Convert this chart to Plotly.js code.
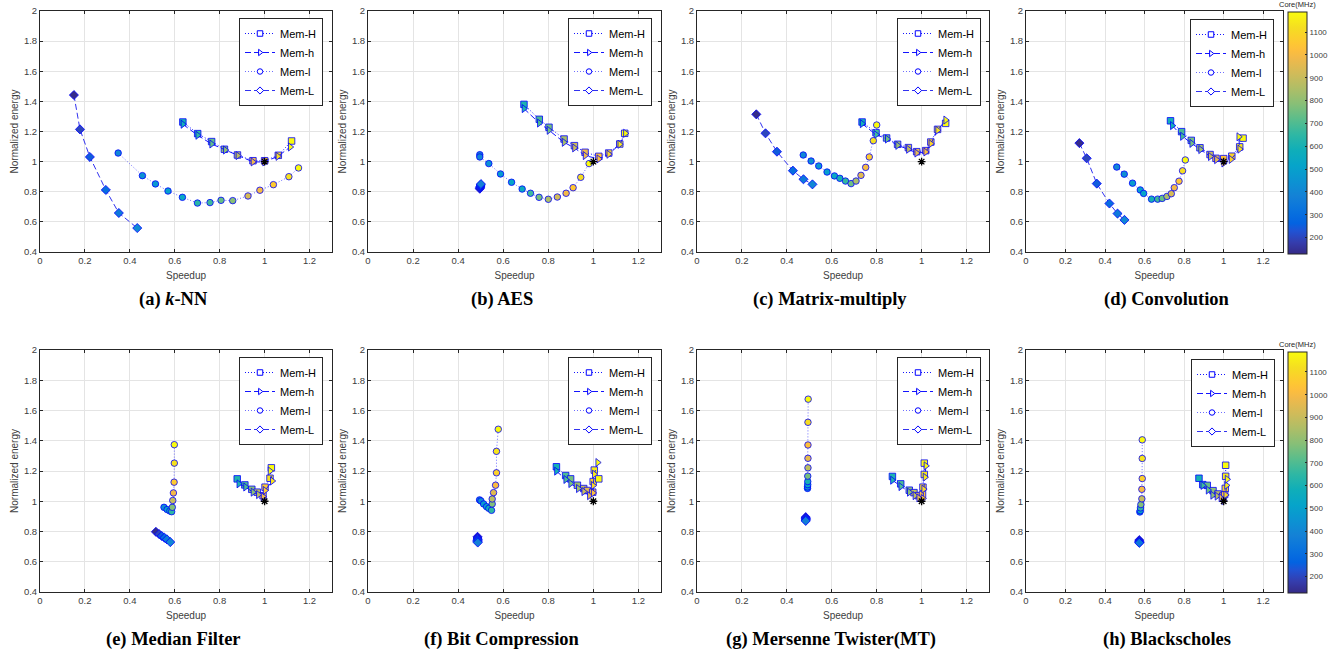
<!DOCTYPE html>
<html>
<head>
<meta charset="utf-8">
<script src="https://cdn.plot.ly/plotly-3.0.1.min.js"></script>
<style>html,body{margin:0;padding:0;background:#fff;}#chart{width:1338px;height:654px;}</style>
</head>
<body>
<div id="chart"></div>
<script>
// ---------------- DATA ----------------
const seriesNames = ['Mem-H', 'Mem-h', 'Mem-l', 'Mem-L'];
const captions = ['(a) <i>k</i>-NN', '(b) AES', '(c) Matrix-multiply', '(d) Convolution',
                  '(e) Median Filter', '(f) Bit Compression', '(g) Mersenne Twister(MT)', '(h) Blackscholes'];
const xTickVals = [0, 0.2, 0.4, 0.6, 0.8, 1, 1.2];
const xTickText = ['0', '0.2', '0.4', '0.6', '0.8', '1', '1.2'];
const yTickVals = [0.4, 0.6, 0.8, 1, 1.2, 1.4, 1.6, 1.8, 2];
const yTickText = ['0.4', '0.6', '0.8', '1', '1.2', '1.4', '1.6', '1.8', '2'];
const cbTickVals = [200, 300, 400, 500, 600, 700, 800, 900, 1000, 1100];
const baselineX = [1];
const baselineY = [1];

// (a) k-NN
const knnHx = [0.636, 0.702, 0.764, 0.821, 0.879, 0.948, 1.0, 1.061, 1.120];
const knnHy = [1.263, 1.186, 1.133, 1.082, 1.044, 1.006, 1.006, 1.042, 1.137];
const knnHf = [600, 660, 730, 800, 880, 980, 1050, 1120, 1190];
const knnhx = [0.636, 0.702, 0.764, 0.825, 0.881, 0.948, 1.0, 1.059, 1.114];
const knnhy = [1.248, 1.175, 1.117, 1.077, 1.040, 0.998, 0.998, 1.035, 1.097];
const knnhf = [600, 660, 730, 800, 880, 980, 1050, 1120, 1190];
const knnlx = [0.348, 0.456, 0.514, 0.570, 0.634, 0.701, 0.757, 0.806, 0.858, 0.926, 0.979, 1.039, 1.108, 1.151];
const knnly = [1.057, 0.907, 0.852, 0.805, 0.763, 0.725, 0.728, 0.743, 0.741, 0.772, 0.810, 0.847, 0.900, 0.958];
const knnlf = [400, 440, 470, 500, 540, 640, 680, 740, 790, 930, 1000, 1060, 1130, 1190];
const knnLx = [0.151, 0.178, 0.222, 0.293, 0.351, 0.433];
const knnLy = [1.442, 1.214, 1.031, 0.812, 0.659, 0.559];
const knnLf = [135, 200, 250, 300, 350, 420];

// (b) AES
const aesHx = [0.692, 0.760, 0.803, 0.870, 0.916, 0.963, 1.024, 1.068, 1.117, 1.139];
const aesHy = [1.380, 1.281, 1.228, 1.150, 1.106, 1.062, 1.035, 1.057, 1.117, 1.188];
const aesHf = [620, 700, 760, 840, 910, 980, 1040, 1100, 1150, 1190];
const aeshx = [0.692, 0.760, 0.803, 0.870, 0.916, 0.963, 1.024, 1.068, 1.117, 1.142];
const aeshy = [1.352, 1.256, 1.208, 1.128, 1.091, 1.040, 1.018, 1.049, 1.115, 1.188];
const aeshf = [620, 700, 760, 840, 910, 980, 1040, 1100, 1150, 1190];
const aeslx = [0.496, 0.496, 0.536, 0.588, 0.637, 0.684, 0.721, 0.759, 0.800, 0.840, 0.879, 0.910, 0.944, 0.981];
const aesly = [1.046, 1.031, 0.987, 0.918, 0.863, 0.818, 0.790, 0.763, 0.750, 0.765, 0.790, 0.827, 0.896, 0.987];
const aeslf = [380, 400, 440, 480, 520, 560, 680, 760, 850, 920, 990, 1050, 1120, 1190];
const aesLx = [0.496, 0.497, 0.498, 0.499, 0.500, 0.501];
const aesLy = [0.820, 0.826, 0.832, 0.838, 0.845, 0.851];
const aesLf = [135, 180, 230, 280, 330, 380];

// (c) Matrix-multiply
const mmHx = [0.735, 0.797, 0.844, 0.893, 0.941, 0.978, 1.018, 1.041, 1.071, 1.107];
const mmHy = [1.263, 1.192, 1.157, 1.115, 1.093, 1.066, 1.073, 1.130, 1.214, 1.254];
const mmHf = [600, 680, 750, 820, 890, 960, 1030, 1090, 1140, 1190];
const mmhx = [0.735, 0.797, 0.847, 0.893, 0.941, 0.978, 1.018, 1.041, 1.071, 1.107];
const mmhy = [1.252, 1.179, 1.150, 1.108, 1.082, 1.057, 1.064, 1.119, 1.208, 1.276];
const mmhf = [600, 680, 750, 820, 890, 960, 1030, 1090, 1140, 1190];
const mmlx = [0.473, 0.508, 0.542, 0.579, 0.612, 0.636, 0.661, 0.686, 0.708, 0.730, 0.751, 0.767, 0.785, 0.800];
const mmly = [1.044, 1.004, 0.971, 0.931, 0.905, 0.889, 0.871, 0.854, 0.871, 0.909, 0.962, 1.031, 1.139, 1.243];
const mmlf = [400, 430, 460, 500, 540, 600, 660, 750, 850, 950, 1000, 1060, 1130, 1190];
const mmLx = [0.264, 0.305, 0.356, 0.427, 0.474, 0.514];
const mmLy = [1.314, 1.188, 1.066, 0.940, 0.883, 0.849];
const mmLf = [135, 200, 250, 300, 350, 400];

// (d) Convolution
const convHx = [0.731, 0.787, 0.836, 0.880, 0.931, 0.961, 1.000, 1.041, 1.081, 1.098];
const convHy = [1.271, 1.199, 1.141, 1.092, 1.047, 1.022, 1.020, 1.036, 1.098, 1.156];
const convHf = [600, 690, 760, 830, 900, 960, 1030, 1090, 1140, 1190];
const convhx = [0.740, 0.791, 0.838, 0.883, 0.932, 0.963, 1.000, 1.037, 1.081, 1.076];
const convhy = [1.239, 1.168, 1.121, 1.080, 1.034, 1.013, 0.991, 1.015, 1.083, 1.165];
const convhf = [600, 690, 760, 830, 900, 960, 1030, 1090, 1140, 1190];
const convlx = [0.459, 0.497, 0.539, 0.578, 0.595, 0.635, 0.666, 0.689, 0.713, 0.735, 0.750, 0.774, 0.792, 0.806];
const convly = [0.964, 0.917, 0.857, 0.812, 0.789, 0.751, 0.751, 0.756, 0.769, 0.787, 0.827, 0.870, 0.939, 1.011];
const convlf = [400, 430, 480, 500, 520, 600, 680, 740, 850, 930, 990, 1050, 1120, 1190];
const convLx = [0.270, 0.307, 0.358, 0.422, 0.463, 0.498];
const convLy = [1.123, 1.022, 0.854, 0.722, 0.655, 0.613];
const convLf = [135, 200, 250, 300, 350, 400];

// (e) Median Filter
const medHx = [0.878, 0.912, 0.943, 0.967, 0.993, 1.002, 1.024, 1.030];
const medHy = [1.148, 1.108, 1.079, 1.060, 1.037, 1.093, 1.152, 1.221];
const medHf = [620, 700, 790, 880, 980, 1060, 1130, 1190];
const medhx = [0.885, 0.915, 0.948, 0.972, 0.993, 1.002, 1.034, 1.024];
const medhy = [1.115, 1.094, 1.060, 1.044, 1.031, 1.071, 1.134, 1.200];
const medhf = [620, 700, 790, 880, 980, 1060, 1130, 1190];
const medlx = [0.552, 0.566, 0.578, 0.586, 0.589, 0.591, 0.594, 0.597, 0.598, 0.598];
const medly = [0.960, 0.945, 0.936, 0.931, 0.960, 1.005, 1.055, 1.126, 1.252, 1.374];
const medlf = [420, 500, 580, 650, 780, 900, 990, 1060, 1130, 1190];
const medLx = [0.516, 0.530, 0.542, 0.554, 0.565, 0.580];
const medLy = [0.798, 0.783, 0.770, 0.759, 0.748, 0.730];
const medLf = [135, 200, 250, 300, 350, 400];

// (f) Bit Compression
const bcHx = [0.836, 0.877, 0.899, 0.929, 0.957, 0.973, 0.997, 0.999, 1.004, 1.024];
const bcHy = [1.228, 1.170, 1.148, 1.106, 1.084, 1.071, 1.060, 1.130, 1.206, 1.148];
const bcHf = [600, 700, 760, 830, 900, 960, 1030, 1100, 1150, 1190];
const bchx = [0.836, 0.877, 0.899, 0.933, 0.957, 0.982, 0.999, 0.999, 1.004, 1.019];
const bchy = [1.199, 1.144, 1.117, 1.084, 1.064, 1.037, 1.055, 1.104, 1.179, 1.256];
const bchf = [600, 700, 760, 830, 900, 960, 1030, 1100, 1150, 1190];
const bclx = [0.495, 0.501, 0.513, 0.526, 0.536, 0.548, 0.551, 0.551, 0.557, 0.566, 0.570, 0.570, 0.578];
const bcly = [1.009, 1.002, 0.982, 0.964, 0.953, 0.940, 0.982, 1.015, 1.057, 1.106, 1.188, 1.330, 1.476];
const bclf = [380, 420, 470, 520, 580, 650, 780, 870, 950, 1010, 1080, 1140, 1190];
const bcLx = [0.486, 0.486, 0.487, 0.486, 0.486, 0.487];
const bcLy = [0.765, 0.757, 0.749, 0.741, 0.734, 0.727];
const bcLf = [135, 180, 230, 280, 330, 380];

// (g) Mersenne Twister(MT)
const mtHx = [0.870, 0.907, 0.945, 0.966, 0.985, 1.004, 1.006, 1.012, 1.012];
const mtHy = [1.164, 1.115, 1.073, 1.057, 1.037, 1.044, 1.093, 1.177, 1.252];
const mtHf = [620, 700, 790, 880, 960, 1040, 1100, 1150, 1190];
const mthx = [0.870, 0.907, 0.945, 0.970, 0.987, 1.006, 1.009, 1.015, 1.019];
const mthy = [1.139, 1.097, 1.060, 1.037, 1.022, 1.018, 1.080, 1.159, 1.234];
const mthf = [620, 700, 790, 880, 960, 1040, 1100, 1150, 1190];
const mtlx = [0.492, 0.492, 0.493, 0.493, 0.493, 0.494, 0.494, 0.494, 0.494, 0.495];
const mtly = [1.085, 1.095, 1.110, 1.130, 1.166, 1.221, 1.284, 1.372, 1.522, 1.675];
const mtlf = [400, 460, 530, 600, 760, 880, 960, 1030, 1120, 1190];
const mtLx = [0.484, 0.484, 0.485, 0.484, 0.484];
const mtLy = [0.895, 0.888, 0.882, 0.876, 0.870];
const mtLf = [135, 190, 250, 310, 370];

// (h) Blackscholes
const bsHx = [0.875, 0.894, 0.917, 0.946, 0.971, 0.995, 1.005, 1.008, 1.010, 1.010];
const bsHy = [1.152, 1.110, 1.105, 1.070, 1.048, 1.034, 1.045, 1.085, 1.165, 1.238];
const bsHf = [600, 680, 740, 800, 880, 960, 1030, 1100, 1150, 1190];
const bshx = [0.894, 0.921, 0.944, 0.966, 0.986, 1.000, 1.010, 1.014, 1.017];
const bshy = [1.105, 1.074, 1.040, 1.034, 1.023, 1.005, 1.042, 1.105, 1.145];
const bshf = [680, 740, 800, 880, 960, 1030, 1100, 1150, 1190];
const bslx = [0.576, 0.578, 0.579, 0.581, 0.586, 0.586, 0.588, 0.588, 0.588];
const bsly = [0.929, 0.938, 0.956, 0.978, 1.016, 1.079, 1.150, 1.283, 1.406];
const bslf = [420, 540, 660, 780, 900, 1000, 1080, 1140, 1190];
const bsLx = [0.573, 0.573, 0.574, 0.573];
const bsLy = [0.743, 0.735, 0.728, 0.725];
const bsLf = [135, 200, 270, 340];

// ---------------- STYLE / LAYOUT ----------------
const W = 1338, H = 654;
const parula = [
  [0.0000, 'rgb(53,42,135)'], [0.0476, 'rgb(53,61,173)'], [0.0952, 'rgb(32,83,212)'],
  [0.1270, 'rgb(3,99,225)'], [0.1746, 'rgb(8,113,222)'], [0.2381, 'rgb(20,129,214)'],
  [0.3016, 'rgb(12,147,210)'], [0.3651, 'rgb(6,164,202)'], [0.4286, 'rgb(15,174,185)'],
  [0.4921, 'rgb(46,183,164)'], [0.5556, 'rgb(89,189,140)'], [0.6190, 'rgb(135,191,119)'],
  [0.6825, 'rgb(174,190,103)'], [0.7460, 'rgb(209,187,89)'], [0.8095, 'rgb(241,185,74)'],
  [0.8413, 'rgb(253,190,61)'], [0.8730, 'rgb(254,200,50)'], [0.9365, 'rgb(245,222,33)'],
  [1.0000, 'rgb(249,251,14)']
];
const CMIN = 130, CMAX = 1190;

const panels = [
  [[knnHx, knnHy, knnHf], [knnhx, knnhy, knnhf], [knnlx, knnly, knnlf], [knnLx, knnLy, knnLf]],
  [[aesHx, aesHy, aesHf], [aeshx, aeshy, aeshf], [aeslx, aesly, aeslf], [aesLx, aesLy, aesLf]],
  [[mmHx, mmHy, mmHf], [mmhx, mmhy, mmhf], [mmlx, mmly, mmlf], [mmLx, mmLy, mmLf]],
  [[convHx, convHy, convHf], [convhx, convhy, convhf], [convlx, convly, convlf], [convLx, convLy, convLf]],
  [[medHx, medHy, medHf], [medhx, medhy, medhf], [medlx, medly, medlf], [medLx, medLy, medLf]],
  [[bcHx, bcHy, bcHf], [bchx, bchy, bchf], [bclx, bcly, bclf], [bcLx, bcLy, bcLf]],
  [[mtHx, mtHy, mtHf], [mthx, mthy, mthf], [mtlx, mtly, mtlf], [mtLx, mtLy, mtLf]],
  [[bsHx, bsHy, bsHf], [bshx, bshy, bshf], [bslx, bsly, bslf], [bsLx, bsLy, bsLf]]
];

// pixel boxes [left, right, top, bottom]
const boxes = [
  [40, 332, 11, 252], [368, 661, 11, 252], [697, 989, 11, 252], [1026, 1283, 11, 252],
  [40, 332, 350, 592], [368, 661, 350, 592], [697, 989, 350, 592], [1026, 1283, 350, 592]
];
const legendPos = [
  [323, 18], [652, 18], [981, 18], [1274, 19],
  [323, 357], [652, 357], [981, 357], [1275, 359]
];
const captionPos = [
  [173, 299], [502, 299], [830, 299], [1167, 299],
  [173, 639], [502, 639], [831, 639], [1167, 639]
];

const sStyle = [
  {symbol: 'square', size: 6.5, dash: '1px,2px', color: 'rgb(20,20,255)'},
  {symbol: 'triangle-right', size: 7, dash: '6px,3px', color: 'rgb(20,20,255)'},
  {symbol: 'circle', size: 6.5, dash: '1px,2px', color: 'rgb(110,110,255)'},
  {symbol: 'diamond', size: 7, dash: '6px,3px', color: 'rgb(50,50,240)'}
];

const tickFont = {family: 'Liberation Sans, Arial, sans-serif', size: 9.5, color: '#404040'};
const titleFont = {family: 'Liberation Sans, Arial, sans-serif', size: 10, color: '#404040'};

const traces = [];
const layout = {
  width: W, height: H,
  margin: {l: 0, r: 0, t: 0, b: 0},
  paper_bgcolor: '#ffffff', plot_bgcolor: '#ffffff',
  showlegend: true,
  annotations: [],
  coloraxis: {
    colorscale: parula, cmin: CMIN, cmax: CMAX, showscale: true,
    colorbar: {
      x: 1288 / W, xanchor: 'left', y: 1 - 11.5 / H, yanchor: 'top',
      len: 241.5, lenmode: 'pixels', thickness: 18.5, thicknessmode: 'pixels',
      xpad: 0, ypad: 0, outlinewidth: 1, outlinecolor: '#262626',
      tickvals: cbTickVals, ticks: 'inside', ticklen: 2, tickcolor: '#262626',
      tickfont: {family: 'Liberation Sans, Arial, sans-serif', size: 8, color: '#404040'}
    }
  },
  coloraxis2: {
    colorscale: parula, cmin: CMIN, cmax: CMAX, showscale: true,
    colorbar: {
      x: 1288 / W, xanchor: 'left', y: 1 - 351.5 / H, yanchor: 'top',
      len: 241, lenmode: 'pixels', thickness: 18.5, thicknessmode: 'pixels',
      xpad: 0, ypad: 0, outlinewidth: 1, outlinecolor: '#262626',
      tickvals: cbTickVals, ticks: 'inside', ticklen: 2, tickcolor: '#262626',
      tickfont: {family: 'Liberation Sans, Arial, sans-serif', size: 8, color: '#404040'}
    }
  }
};

panels.forEach((panel, p) => {
  const n = p + 1;
  const xa = n === 1 ? 'x' : 'x' + n;
  const ya = n === 1 ? 'y' : 'y' + n;
  const xk = n === 1 ? 'xaxis' : 'xaxis' + n;
  const yk = n === 1 ? 'yaxis' : 'yaxis' + n;
  const lg = n === 1 ? 'legend' : 'legend' + n;
  const ca = p < 4 ? 'coloraxis' : 'coloraxis2';
  const [l, r, t, b] = boxes[p];

  layout[xk] = {
    domain: [l / W, r / W], anchor: ya, range: [0, 1.3],
    tickmode: 'array', tickvals: xTickVals, ticktext: xTickText,
    showgrid: true, gridcolor: '#e4e4e4', gridwidth: 1, zeroline: false,
    showline: true, linecolor: '#262626', linewidth: 1, mirror: 'ticks',
    ticks: 'inside', ticklen: 3, tickcolor: '#262626', tickfont: tickFont,
    title: {text: 'Speedup', font: titleFont, standoff: 6}
  };
  layout[yk] = {
    domain: [1 - b / H, 1 - t / H], anchor: xa, range: [0.4, 2],
    tickmode: 'array', tickvals: yTickVals, ticktext: yTickText,
    showgrid: true, gridcolor: '#e4e4e4', gridwidth: 1, zeroline: false,
    showline: true, linecolor: '#262626', linewidth: 1, mirror: 'ticks',
    ticks: 'inside', ticklen: 3, tickcolor: '#262626', tickfont: tickFont,
    title: {text: 'Normalized energy', font: titleFont, standoff: 3}
  };
  layout[lg] = {
    x: legendPos[p][0] / W, y: 1 - legendPos[p][1] / H, xanchor: 'right', yanchor: 'top',
    bgcolor: '#ffffff', bordercolor: '#262626', borderwidth: 1,
    font: {family: 'Liberation Sans, Arial, sans-serif', size: 11, color: '#000000'},
    tracegroupgap: 0, itemwidth: 30
  };

  panel.forEach((s, k) => {
    const st = sStyle[k];
    traces.push({
      type: 'scatter', mode: 'lines+markers', x: s[0], y: s[1],
      xaxis: xa, yaxis: ya, showlegend: false, name: seriesNames[k],
      line: {color: st.color, width: 1, dash: st.dash},
      marker: {symbol: st.symbol, size: st.size, color: s[2], coloraxis: ca,
               line: {color: 'rgb(0,0,255)', width: 0.8}},
      hoverinfo: 'x+y+text', text: s[2].map(f => f + ' MHz')
    });
  });
  // baseline marker
  traces.push({
    type: 'scatter', mode: 'markers', x: baselineX, y: baselineY, xaxis: xa, yaxis: ya,
    showlegend: false, name: 'baseline',
    marker: {symbol: 'asterisk-open', size: 6.5, color: '#000000', line: {color: '#000000', width: 1.3}}
  });
  // legend entries
  seriesNames.forEach((nm, k) => {
    const st = sStyle[k];
    traces.push({
      type: 'scatter', mode: 'lines+markers', x: [null], y: [null], xaxis: xa, yaxis: ya,
      name: nm, legend: lg, showlegend: true,
      line: {color: st.color, width: 1, dash: st.dash},
      marker: {symbol: st.symbol, size: 5.5, color: '#ffffff', line: {color: 'rgb(0,0,255)', width: 1}}
    });
  });

  layout.annotations.push({
    xref: 'paper', yref: 'paper', x: captionPos[p][0] / W, y: 1 - captionPos[p][1] / H,
    xanchor: 'center', yanchor: 'middle', showarrow: false,
    text: '<b>' + captions[p] + '</b>',
    font: {family: 'Liberation Serif, Times New Roman, serif', size: 18.5, color: '#000000'}
  });
});

layout.annotations.push({
  xref: 'paper', yref: 'paper', x: 1297 / W, y: 1 - 5 / H, xanchor: 'center', yanchor: 'middle',
  showarrow: false, text: 'Core(MHz)',
  font: {family: 'Liberation Sans, Arial, sans-serif', size: 7.5, color: '#262626'}
});
layout.annotations.push({
  xref: 'paper', yref: 'paper', x: 1297 / W, y: 1 - 344 / H, xanchor: 'center', yanchor: 'middle',
  showarrow: false, text: 'Core(MHz)',
  font: {family: 'Liberation Sans, Arial, sans-serif', size: 7.5, color: '#262626'}
});

Plotly.newPlot('chart', traces, layout, {displayModeBar: false, responsive: false});
</script>
</body>
</html>
